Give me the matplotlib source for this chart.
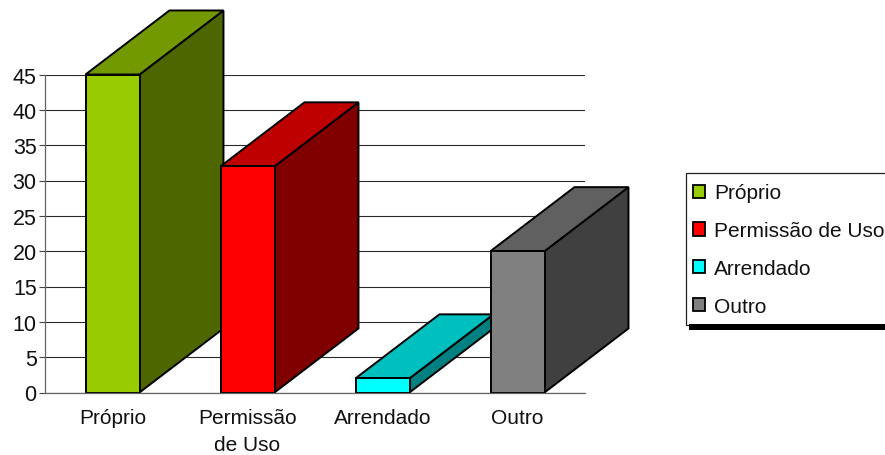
import matplotlib
matplotlib.use("Agg")
import matplotlib.pyplot as plt
from matplotlib.patches import Polygon, Rectangle, Patch

categories = ["Próprio", "Permissão\nde Uso", "Arrendado", "Outro"]
legend_labels = ["Próprio", "Permissão de Uso", "Arrendado", "Outro"]
values = [45, 32, 2, 20]
y_ticks = [0, 5, 10, 15, 20, 25, 30, 35, 40, 45]

front_colors = ["#99CC00", "#FF0000", "#00FFFF", "#808080"]
top_colors = ["#739900", "#BF0000", "#00BFBF", "#606060"]
side_colors = ["#4D6600", "#800000", "#008080", "#404040"]

W, H = 885, 456
bar_width = 0.4
# extrusion of the fake 3d boxes, in data units
depth_x = 0.622
depth_y = 9.06

plt.rcParams["font.family"] = ["Liberation Sans", "DejaVu Sans"]
plt.rcParams["font.size"] = 15

fig = plt.figure(figsize=(W / 100, H / 100), dpi=100)
ax = fig.add_axes([45 / W, 1 - 393.5 / H, 540 / W, 318 / H])
ax.set_xlim(0, 4)
ax.set_ylim(0, 45)

ax.spines["top"].set_visible(False)
ax.spines["right"].set_visible(False)
ax.spines["left"].set_color("#666666")
ax.spines["bottom"].set_color("#666666")
ax.spines["left"].set_linewidth(0.9)
ax.spines["bottom"].set_linewidth(0.9)

ax.set_yticks(y_ticks)
ax.yaxis.grid(True, color="#2a2a2a", linewidth=0.8)
ax.set_axisbelow(True)
ax.tick_params(axis="y", length=4.5, width=0.8, color="#444444", pad=1.5,
               labelsize=15.5, labelcolor="#111111")

ax.set_xticks([i + 0.5 for i in range(len(categories))])
ax.set_xticklabels(categories, linespacing=1.55, color="#111111")
ax.tick_params(axis="x", length=0, pad=11)

edge = dict(edgecolor="black", linewidth=1.4, joinstyle="miter", clip_on=False)

# left to right so each box covers the side of the previous one
for i, v in enumerate(values):
    x0 = i + 0.5 - bar_width / 2
    x1 = i + 0.5 + bar_width / 2
    side = [(x1, 0), (x1 + depth_x, depth_y), (x1 + depth_x, v + depth_y), (x1, v)]
    top = [(x0, v), (x0 + depth_x, v + depth_y), (x1 + depth_x, v + depth_y), (x1, v)]
    ax.add_patch(Polygon(side, closed=True, facecolor=side_colors[i], **edge))
    ax.add_patch(Polygon(top, closed=True, facecolor=top_colors[i], **edge))
    ax.add_patch(Rectangle((x0, 0), bar_width, v, facecolor=front_colors[i], **edge))

# legend box runs past the right edge, with a thick black shadow below it
fig.add_artist(Rectangle((685.5 / W, 1 - 325.5 / H), 210 / W, 152 / H, facecolor="white",
                         edgecolor="#222222", linewidth=0.9, transform=fig.transFigure))
fig.add_artist(Rectangle((689 / W, 1 - 331 / H), 200 / W, 6 / H, facecolor="black",
                         edgecolor="none", transform=fig.transFigure))

handles = [Patch(facecolor=c, edgecolor="black", linewidth=1.3) for c in front_colors]
leg = fig.legend(handles, legend_labels, loc="upper left",
                 bbox_to_anchor=(692.5 / W, 1 - 184.5 / H),
                 frameon=False, handlelength=0.6, handleheight=0.6, handletextpad=0.42,
                 labelspacing=0.905, borderpad=0, borderaxespad=0, labelcolor="#111111")

fig.savefig("out.png", dpi=100)
